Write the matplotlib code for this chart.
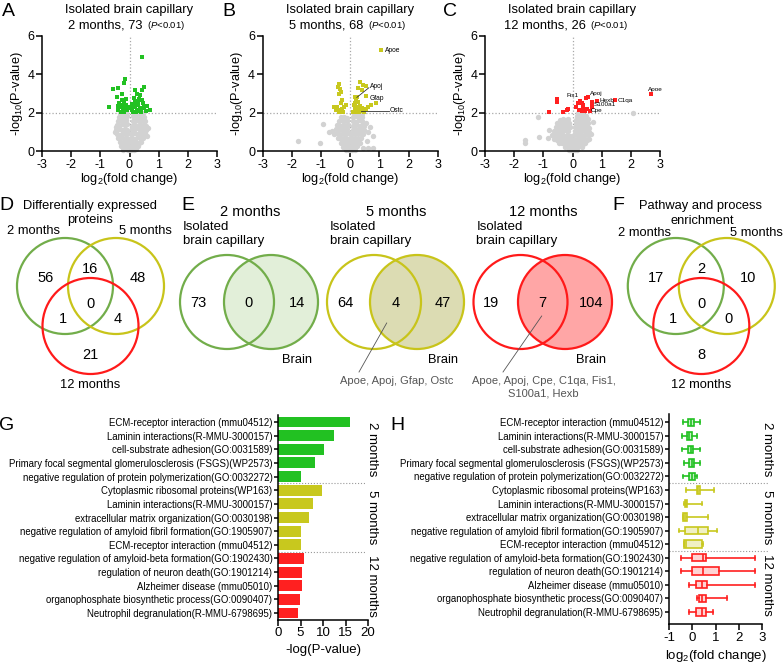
import matplotlib
matplotlib.use('Agg')
import matplotlib.pyplot as plt
from matplotlib.patches import Circle

plt.rcParams['font.family'] = ['Liberation Sans', 'DejaVu Sans']
plt.rcParams['mathtext.fontset'] = 'custom'
plt.rcParams['mathtext.rm'] = 'Liberation Sans'
plt.rcParams['mathtext.it'] = 'Liberation Sans:italic'
plt.rcParams['mathtext.bf'] = 'Liberation Sans:bold'
plt.rcParams['axes.unicode_minus'] = False

# ---------------- data ----------------
# volcano plots: (log2 fold change, -log10 p)
a_gray = [(-0.22,0.04),(-0.13,0.08),(-0.04,0.03),(0.05,0.07),(0.14,0.05),(0.23,0.09),
          (-0.29,0.24),(-0.19,0.2),(-0.09,0.27),(0.01,0.22),(0.1,0.25),(0.2,0.19),(0.3,0.26),
          (-0.34,0.45),(-0.25,0.4),(-0.15,0.47),(-0.06,0.42),(0.04,0.48),(0.13,0.41),(0.23,0.46),(0.33,0.43),(0.41,0.49),
          (-0.38,0.66),(-0.29,0.71),(-0.2,0.64),(-0.1,0.69),(0.0,0.63),(0.09,0.7),(0.18,0.65),(0.28,0.72),(0.37,0.67),(0.46,0.7),
          (-0.42,0.9),(-0.33,0.86),(-0.24,0.93),(-0.14,0.88),(-0.05,0.94),(0.06,0.87),(0.15,0.92),(0.25,0.89),(0.35,0.95),(0.44,0.88),(0.53,0.92),
          (-0.45,1.12),(-0.36,1.17),(-0.27,1.09),(-0.17,1.15),(-0.08,1.1),(0.08,1.16),(0.17,1.11),(0.27,1.18),(0.37,1.12),(0.47,1.15),(0.56,1.1),
          (-0.44,1.36),(-0.35,1.31),(-0.25,1.39),(-0.16,1.34),(-0.07,1.4),(0.1,1.33),(0.2,1.38),(0.3,1.32),(0.4,1.37),(0.5,1.35),(0.58,1.3),
          (-0.41,1.58),(-0.32,1.62),(-0.23,1.55),(-0.13,1.6),(0.12,1.56),(0.22,1.62),(0.32,1.57),(0.42,1.61),(0.52,1.55),
          (-0.37,1.8),(-0.28,1.84),(-0.19,1.78),(-0.1,1.85),(0.11,1.81),(0.21,1.86),(0.31,1.79),(0.41,1.84),(0.5,1.78),
          (-0.31,1.96),(-0.22,1.94),(-0.13,1.97),(0.14,1.95),(0.26,1.97),(0.37,1.94),(0.47,1.96),
          (-0.5,1.0),(0.62,1.22),(-0.48,1.25),(0.6,0.8)]
a_sig = [(0.43,4.9),(-0.17,3.75),(-0.55,3.23),(-0.38,3.3),(-0.18,3.55),(-0.26,2.95),(-0.44,2.83),
         (0.48,3.35),(0.43,3.18),(0.2,3.2),(0.25,3.0),(0.14,2.75),(0.31,2.7),(0.43,2.66),(0.37,2.9),(0.46,2.48),
         (-0.26,2.66),(-0.18,2.48),(-0.11,2.7),(-0.72,2.3),(-0.32,2.3),(-0.23,2.22),(-0.15,2.28),(-0.38,2.14),
         (-0.09,2.14),(-0.41,2.35),(-0.3,2.05),(-0.2,2.05),(-0.12,2.4),(-0.27,2.4),(-0.35,2.5),
         (0.2,2.35),(0.29,2.4),(0.43,2.22),(0.5,2.28),(0.6,2.35),(0.69,2.14),(0.08,2.14),(0.14,2.28),(0.25,2.14),
         (0.34,2.1),(0.1,2.45),(0.18,2.55),(0.36,2.25),(0.55,2.1),(0.12,2.05),(0.22,2.02),(0.4,2.04),(-0.16,2.16),
         (-0.06,2.3),(-0.24,2.1),(0.28,2.6),(0.06,2.25)]

b_gray = [(-0.15,0.04),(-0.05,0.07),(0.05,0.03),(0.15,0.06),
          (-0.25,0.22),(-0.15,0.26),(-0.05,0.2),(0.05,0.25),(0.15,0.21),(0.24,0.27),
          (-0.33,0.43),(-0.23,0.47),(-0.13,0.41),(-0.03,0.46),(0.07,0.42),(0.17,0.48),(0.27,0.44),(0.35,0.4),
          (-0.42,0.66),(-0.32,0.62),(-0.22,0.68),(-0.12,0.63),(-0.02,0.69),(0.08,0.64),(0.18,0.7),(0.28,0.65),(0.38,0.68),
          (-0.55,0.88),(-0.45,0.92),(-0.35,0.86),(-0.25,0.93),(-0.15,0.88),(-0.05,0.94),(0.07,0.87),(0.17,0.92),(0.27,0.89),(0.37,0.94),(0.45,0.9),
          (-0.62,1.05),(-0.5,1.13),(-0.4,1.09),(-0.3,1.16),(-0.2,1.1),(-0.1,1.15),(0.08,1.11),(0.18,1.17),(0.28,1.1),(0.38,1.15),(0.46,1.12),
          (-0.45,1.34),(-0.35,1.3),(-0.25,1.37),(-0.15,1.32),(-0.07,1.38),(0.09,1.33),(0.19,1.39),(0.29,1.31),(0.39,1.36),(0.47,1.3),
          (-0.38,1.56),(-0.29,1.6),(-0.2,1.54),(-0.11,1.59),(0.1,1.57),(0.2,1.52),(0.3,1.6),(0.4,1.55),
          (-0.3,1.76),(-0.2,1.8),(-0.12,1.74),(0.11,1.78),(0.21,1.82),(0.31,1.76),(0.41,1.8),
          (0.12,1.96),(0.22,1.93),(0.32,1.97),(0.42,1.95),
          (-1.78,0.5),(-1.02,0.44),(-0.92,1.39),(-0.71,1.01),(0.55,1.45),(0.61,1.01),(0.44,0.14),
          (0.61,0.14),(0.78,0.17),(0.67,1.24),(0.78,0.76),(0.57,0.5)]
b_sig = [(1.05,5.25),
         (-0.39,3.52),(-0.43,3.35),(-0.34,3.21),(-0.31,3.09),(-0.37,2.97),(-0.29,2.66),(-0.33,2.49),(-0.54,2.31),
         (-0.46,2.28),(-0.39,2.14),(-0.2,2.28),(-0.14,2.4),(-0.25,2.05),(-0.37,2.03),(-0.48,2.14),(-0.28,2.2),
         (0.32,3.58),(0.44,3.44),(0.55,3.39),(0.26,3.27),(0.4,3.18),(0.23,2.8),(0.15,2.83),(0.21,2.62),(0.18,2.49),
         (0.26,2.57),(0.55,2.87),(0.9,2.49),(0.15,2.31),(0.23,2.28),(0.32,2.35),(0.41,2.26),(0.15,2.14),(0.26,2.12),
         (0.36,2.1),(0.44,2.14),(0.55,2.17),(0.61,2.31),(0.72,2.4),(0.09,2.05),(0.19,2.05),(0.3,2.02),(0.49,2.05),
         (0.38,2.2),(0.12,2.4)]

c_gray = [(-0.12,0.04),(-0.02,0.07),(0.08,0.03),(0.17,0.06),
          (-0.27,0.2),(-0.17,0.24),(-0.07,0.18),(0.03,0.23),(0.13,0.19),(0.23,0.25),(0.31,0.21),
          (-0.45,0.4),(-0.35,0.44),(-0.25,0.38),(-0.15,0.43),(-0.05,0.39),(0.05,0.45),(0.15,0.4),(0.25,0.44),(0.35,0.39),(0.43,0.43),
          (-0.62,0.62),(-0.52,0.58),(-0.42,0.64),(-0.32,0.6),(-0.22,0.65),(-0.12,0.59),(-0.02,0.63),(0.08,0.58),(0.18,0.64),
          (0.28,0.6),(0.38,0.65),(0.48,0.6),(0.56,0.63),
          (-0.72,0.82),(-0.6,0.86),(-0.5,0.8),(-0.4,0.85),(-0.3,0.79),(-0.2,0.84),(-0.1,0.8),(0.04,0.86),(0.14,0.81),
          (0.24,0.85),(0.34,0.8),(0.44,0.86),(0.54,0.82),
          (-0.64,1.05),(-0.55,1.0),(-0.45,1.06),(-0.35,1.01),(-0.25,1.07),(-0.15,1.02),(0.08,1.05),(0.18,1.0),(0.28,1.06),
          (0.38,1.02),(0.48,1.07),(0.56,1.01),
          (-0.58,1.25),(-0.48,1.21),(-0.38,1.27),(-0.28,1.22),(-0.18,1.28),(-0.1,1.23),(0.1,1.26),(0.2,1.21),(0.3,1.27),
          (0.4,1.23),(0.5,1.28),(0.58,1.22),
          (-0.52,1.45),(-0.42,1.41),(-0.32,1.47),(-0.22,1.42),(-0.13,1.46),(0.12,1.44),(0.22,1.4),(0.32,1.47),(0.42,1.42),(0.52,1.46),
          (-0.44,1.63),(-0.34,1.67),(-0.24,1.62),(-0.15,1.66),(0.13,1.64),(0.23,1.6),(0.33,1.66),(0.43,1.62),(0.53,1.65),
          (0.15,1.84),(0.25,1.8),(0.35,1.86),(0.45,1.82),(0.2,1.96),(0.33,1.97),
          (-1.63,0.57),(-1.63,0.43),(-1.15,0.75),(-1.19,1.77),(2.07,1.97),(-0.85,0.7),(0.7,1.5),(0.65,0.9),(-0.8,1.1)]
c_sig = [(2.68,3.0),(1.47,2.66),(0.85,2.62),(0.54,2.83),(0.46,2.75),(0.25,2.62),(0.2,2.49),(0.66,2.57),(0.67,2.4),
         (0.67,2.28),(0.34,2.49),(0.37,2.42),(0.11,2.31),(0.23,2.14),(0.32,2.09),(0.44,2.1),(0.49,2.17),(0.61,2.1),
         (-0.52,2.69),(-0.52,2.54),(-0.8,2.05),(-0.34,2.02),(-0.2,2.14),(-0.15,2.19),(0.36,2.3),(-0.52,2.62)]

b_genes = [('Apoe', 1.18, 5.25), ('Apoj', 0.67, 3.35), ('Gfap', 0.67, 2.75), ('Ostc', 1.36, 2.1)]
c_genes = [('Apoe', 2.6, 3.22), ('Apoj', 0.6, 3.0), ('Fis1', -0.2, 2.88), ('Hexb', 0.92, 2.64),
           ('C1qa', 1.56, 2.66), ('S100a1', 0.74, 2.4), ('Cpe', 0.62, 2.1)]

months = ['2 months', '5 months', '12 months']
de_counts = [73, 68, 26]

# Venn counts: only2, 2&5, only5, all, 2&12, 5&12, only12
d_counts = [56, 16, 48, 0, 1, 4, 21]
f_counts = [17, 2, 10, 0, 1, 0, 8]
# capillary only, shared, brain only
e_counts = [[73, 0, 14], [64, 4, 47], [19, 7, 104]]
e_genes = ['', 'Apoe, Apoj, Gfap, Ostc', 'Apoe, Apoj, Cpe, C1qa, Fis1,\nS100a1, Hexb']

terms = ['ECM-receptor interaction (mmu04512)', 'Laminin interactions(R-MMU-3000157)',
         'cell-substrate adhesion(GO:0031589)', 'Primary focal segmental glomerulosclerosis (FSGS)(WP2573)',
         'negative regulation of protein polymerization(GO:0032272)',
         'Cytoplasmic ribosomal proteins(WP163)', 'Laminin interactions(R-MMU-3000157)',
         'extracellular matrix organization(GO:0030198)', 'negative regulation of amyloid fibril formation(GO:1905907)',
         'ECM-receptor interaction (mmu04512)',
         'negative regulation of amyloid-beta formation(GO:1902430)', 'regulation of neuron death(GO:1901214)',
         'Alzheimer disease (mmu05010)', 'organophosphate biosynthetic process(GO:0090407)',
         'Neutrophil degranulation(R-MMU-6798695)']
neglogp = [16.0, 12.4, 10.3, 8.2, 5.1, 9.8, 7.8, 6.8, 5.2, 5.1, 5.8, 5.3, 5.3, 4.8, 4.5]

h_lo = [-0.39, -0.46, -0.46, -0.34, -0.39, -0.29, -0.36, -0.39, -0.57, -0.36, -0.5, -0.5, -0.14, 0.21, -0.14]
h_q1 = [-0.2, -0.24, -0.17, -0.14, -0.13, 0.19, -0.33, -0.39, -0.31, -0.36, 0.01, 0.01, 0.14, 0.29, 0.14]
h_med = [-0.07, -0.14, -0.07, -0.03, 0.0, 0.26, -0.27, -0.32, 0.24, -0.27, 0.47, 0.47, 0.43, 0.43, 0.4]
h_q3 = [0.07, -0.03, 0.04, 0.09, 0.13, 0.33, -0.21, -0.24, 0.69, 0.43, 0.57, 1.16, 0.64, 0.57, 0.57]
h_hi = [0.33, 0.21, 0.33, 0.33, 0.19, 0.93, 0.4, 0.69, 1.07, 0.47, 2.69, 2.69, 2.69, 1.5, 0.9]

# ---------------- styles ----------------
c_green, c_yellow, c_red = '#22c122', '#c8c81e', '#ff2020'
group_cols = [c_green, c_yellow, c_red]
v_green, v_yellow, v_red = '#72ad4a', '#c8c41a', '#ff1a1a'
box_face = ['#c4f0c4', '#f0f0c4', '#ffd4d4']
e_fill = ['#e2efd9', '#dcdcb3', '#ffa6a6']
e_edge = [v_green, v_yellow, v_red]

W, H = 784, 663
fig = plt.figure(figsize=(W / 100, H / 100), dpi=100)

# overlay in pixel coordinates for venns and free text
ov = fig.add_axes([0, 0, 1, 1])
ov.set_xlim(0, W)
ov.set_ylim(H, 0)
ov.axis('off')


def rect(l, t, r, b):
    return [l / W, 1 - b / H, (r - l) / W, (b - t) / H]


def style(ax):
    for s in ['top', 'right']:
        ax.spines[s].set_visible(False)
    for s in ['left', 'bottom']:
        ax.spines[s].set_linewidth(1.1)
    ax.tick_params(length=4, width=1.1, pad=1.5)


# ---------------- A-C volcano ----------------
vol_left = [42, 262.7, 485]
vol_data = [(a_gray, a_sig, c_green), (b_gray, b_sig, c_yellow), (c_gray, c_sig, c_red)]
vol_axes = []
for i, (gray, sig, col) in enumerate(vol_data):
    l = vol_left[i]
    ax = fig.add_axes(rect(l, 36, l + 175, 151))
    gx, gy = zip(*gray)
    ax.scatter(gx, gy, s=15, c='#d2d2d2', lw=0, zorder=2, clip_on=False)
    sx, sy = zip(*sig)
    ax.scatter(sx, sy, s=5, marker='s', c=col, lw=0, zorder=3)
    ax.axhline(2, color='#a8a8a8', ls=':', lw=0.9, zorder=1)
    ax.axvline(0, color='#a8a8a8', ls=':', lw=0.9, zorder=1)
    ax.set_xlim(-3, 3)
    ax.set_ylim(0, 6)
    ax.set_xticks(range(-3, 4))
    ax.set_yticks([0, 2, 4, 6])
    style(ax)
    ax.tick_params(labelsize=9)
    ax.set_xlabel('log$_2$(fold change)', fontsize=9.2, labelpad=0)
    ax.set_ylabel('-log$_{10}$(P-value)', fontsize=9.2, labelpad=2)
    cx = l + 87.5
    ov.text(cx, 9.5, 'Isolated brain capillary', fontsize=9.3, ha='center', va='center')
    ov.text(cx + 17, 28, f'{months[i]}, {de_counts[i]} ', fontsize=9.3, ha='right', va='baseline')
    ov.text(cx + 18, 28, '($P$<0.01)', fontsize=6.8, ha='left', va='baseline')
    vol_axes.append(ax)

axb, axc = vol_axes[1], vol_axes[2]
for name, x, y in b_genes:
    axb.text(x, y, name, fontsize=4.8, va='center', ha='left', zorder=4)
axb.plot([0.23, 0.64], [2.8, 3.3], color='#333333', lw=0.6, zorder=4)
axb.plot([0.38, 1.33], [2.07, 2.07], color='#333333', lw=0.6, zorder=4)
for name, x, y in c_genes:
    axc.text(x, y, name, fontsize=4.6, va='center', ha='left', zorder=4)


# ---------------- D / F three-way venns ----------------
def venn3(cx, counts):
    cy = 286
    for dx, dy, col in [(-25.5, 0, v_green), (25.5, 0, v_yellow), (0, 40, v_red)]:
        ov.add_patch(Circle((cx + dx, cy + dy), 48, fill=False, ec=col, lw=1.6))
    offs = [(-45, -8), (0, -17), (47, -8), (0, 18), (-28, 33), (27, 33), (0, 69)]
    for (ox, oy), n in zip(offs, counts):
        ov.text(cx + ox, cy + oy, str(n), fontsize=10.5, ha='center', va='center')
    ov.text(cx, 385, '12 months', fontsize=9.3, ha='center', va='center')


venn3(90.5, d_counts)
ov.text(90, 206, 'Differentially expressed', fontsize=9.3, ha='center', va='center')
ov.text(90, 220, 'proteins', fontsize=9.3, ha='center', va='center')
ov.text(34, 231, '2 months', fontsize=9.3, ha='center', va='center')
ov.text(145, 231, '5 months', fontsize=9.3, ha='center', va='center')

venn3(701.3, f_counts)
ov.text(701, 206, 'Pathway and process', fontsize=9.3, ha='center', va='center')
ov.text(702, 221, 'enrichment', fontsize=9.3, ha='center', va='center')
ov.text(645, 233, '2 months', fontsize=9.3, ha='center', va='center')
ov.text(756, 233, '5 months', fontsize=9.3, ha='center', va='center')

# ---------------- E two-way venns ----------------
e_left = [227, 374, 520.5]
e_sep = [44, 43, 44.5]
for i in range(3):
    L = e_left[i]
    R = L + e_sep[i]
    mid = (L + R) / 2
    cy = 302
    ov.add_patch(Circle((R, cy), 47, fc=e_fill[i], ec='none'))
    ov.add_patch(Circle((R, cy), 47, fill=False, ec=e_edge[i], lw=1.6))
    ov.add_patch(Circle((L, cy), 47, fill=False, ec=e_edge[i], lw=1.6))
    for x, n in zip([L - 29, mid, R + 26], e_counts[i]):
        ov.text(x, cy + 1, str(n), fontsize=10.5, ha='center', va='center')
    ov.text(R + 26, 360, 'Brain', fontsize=9.3, ha='center', va='center')
    ov.text(mid + 1, 212, months[i], fontsize=10.5, ha='center', va='center')
    ov.text(L - 44, 227, 'Isolated', fontsize=9.5, ha='left', va='center')
    ov.text(L - 44, 241, 'brain capillary', fontsize=9.5, ha='left', va='center')
    if e_genes[i]:
        ov.text(mid + 1, 376, e_genes[i], fontsize=8, color='#555555', ha='center', va='top',
                linespacing=1.25)
ov.plot([386.7, 359], [323, 372], color='#555555', lw=0.6)
ov.plot([541.7, 503], [316, 372], color='#555555', lw=0.6)

# ---------------- panel letters ----------------
for s, x, y in [('A', 8, 11), ('B', 229, 11), ('C', 450, 11), ('D', 6, 206), ('E', 188, 206),
                ('F', 618, 205), ('G', 7, 425), ('H', 397, 425)]:
    ov.text(x, y, s, fontsize=14, ha='center', va='center')

rows = list(range(len(terms)))
groups = [range(0, 5), range(5, 10), range(10, 15)]

# ---------------- G bars ----------------
axg = fig.add_axes(rect(278, 415.2, 368, 619.8))
bar_cols = [group_cols[r // 5] for r in rows]
axg.barh(rows, neglogp, height=0.8, color=bar_cols)
axg.set_ylim(14.5, -0.5)
axg.set_xlim(0, 20)
axg.set_xticks([0, 5, 10, 15, 20])
axg.set_yticks(rows)
axg.set_yticklabels(terms, fontsize=6.9)
style(axg)
axg.tick_params(axis='y', length=3, pad=1)
axg.tick_params(axis='x', labelsize=9.5)
axg.set_xlabel('-log(P-value)', fontsize=9.5, labelpad=3)
for yy in [4.5, 9.5]:
    axg.plot([0, 19.3], [yy, yy], color='#999999', ls=':', lw=0.8, clip_on=False)
for k, g in enumerate(groups):
    axg.text(1.045, g[2], months[k], transform=axg.get_yaxis_transform(), rotation=270,
             fontsize=9.5, ha='center', va='center')

# ---------------- H boxes ----------------
axh = fig.add_axes(rect(669, 413.5, 762, 624))
for k, g in enumerate(groups):
    stats = [dict(whislo=h_lo[r], q1=h_q1[r], med=h_med[r], q3=h_q3[r], whishi=h_hi[r], fliers=[])
             for r in g]
    col = group_cols[k]
    axh.bxp(stats, positions=list(g), orientation='horizontal', widths=0.55, patch_artist=True,
            showfliers=False, manage_ticks=False,
            boxprops=dict(facecolor=box_face[k], edgecolor=col, lw=1.2),
            medianprops=dict(color=col, lw=1.2),
            whiskerprops=dict(color=col, lw=1.2),
            capprops=dict(color=col, lw=1.2))
axh.set_ylim(14.9, -0.65)
axh.set_xlim(-1, 3)
axh.set_xticks([-1, 0, 1, 2, 3])
axh.set_yticks(rows)
axh.set_yticklabels(terms, fontsize=6.9)
style(axh)
axh.tick_params(axis='y', length=3, pad=1)
axh.tick_params(axis='x', labelsize=9.5)
axh.set_xlabel('log$_2$(fold change)', fontsize=9.5, labelpad=3)
for yy in [4.5, 9.5]:
    axh.plot([-1, 3.3], [yy, yy], color='#999999', ls=':', lw=0.8, clip_on=False)
for k, g in enumerate(groups):
    axh.text(1.054, g[2], months[k], transform=axh.get_yaxis_transform(), rotation=270,
             fontsize=9.5, ha='center', va='center')

fig.savefig('out.png', dpi=100)
